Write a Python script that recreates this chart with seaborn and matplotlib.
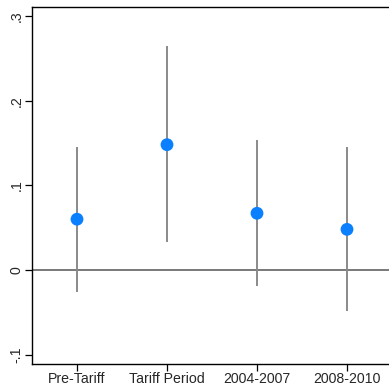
import pandas as pd
import seaborn as sns
import matplotlib.pyplot as plt

# coefficients and 95% CIs
periods = ["Pre-Tariff", "Tariff Period", "2004-2007", "2008-2010"]
coef = [0.060, 0.148, 0.067, 0.048]
ci_low = [-0.026, 0.033, -0.019, -0.048]
ci_high = [0.145, 0.265, 0.153, 0.145]
yticks = [-0.1, 0, 0.1, 0.2, 0.3]
ytick_labels = ["-.1", "0", ".1", ".2", ".3"]

df = pd.DataFrame({"period": periods, "coef": coef, "lo": ci_low, "hi": ci_high})
df["pos"] = range(1, len(df) + 1)

sns.set_style("white")
plt.rcParams["font.family"] = ["Liberation Sans", "DejaVu Sans"]

fig = plt.figure(figsize=(3.89, 3.85), dpi=100)
ax = fig.add_axes([32 / 389, 21 / 385, 360 / 389, 357 / 385])

ax.axhline(0, color="#555555", lw=1.1, zorder=1)
ax.vlines(df["pos"], df["lo"], df["hi"], color="#8a8a8a", lw=1.4, zorder=2)
sns.scatterplot(x="pos", y="coef", data=df, ax=ax, color="#0a80ff",
                s=85, edgecolor="none", zorder=3)

ax.set_xlim(0.5, 4.5)
ax.set_ylim(-0.111, 0.3106)
ax.set_xticks(df["pos"])
ax.set_xticklabels(periods, fontsize=10.2)
ax.set_yticks(yticks)
ax.set_yticklabels(ytick_labels, fontsize=10.2, rotation=90, va="center")
ax.set_xlabel("")
ax.set_ylabel("")

for side in ["left", "bottom", "top"]:
    ax.spines[side].set_visible(True)
    ax.spines[side].set_color("black")
    ax.spines[side].set_linewidth(1.0)
ax.spines["right"].set_visible(False)
ax.tick_params(axis="both", direction="out", length=5, width=0.9,
               color="black", bottom=True, left=True, pad=1)

fig.savefig("out.png", dpi=100)
